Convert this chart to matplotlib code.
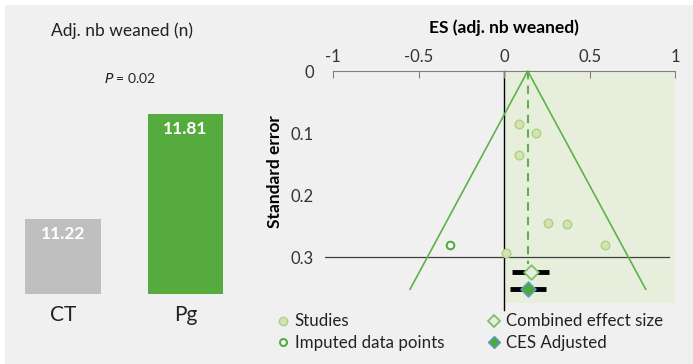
import matplotlib
matplotlib.use('Agg')
import matplotlib.pyplot as plt
from matplotlib.patches import Rectangle
from matplotlib.lines import Line2D

plt.rcParams['font.family'] = ['Lato', 'DejaVu Sans']

# left panel data
groups = ['CT', 'Pg']
weaned = [11.22, 11.81]
bar_colors = ['#bfbfbf', '#56ab3f']
base = 10.80

# funnel plot data (effect size, standard error)
study_es = [0.086, 0.185, 0.086, 0.254, 0.368, 0.589, 0.012]
study_se = [0.086, 0.100, 0.135, 0.245, 0.246, 0.280, 0.294]
imputed_es = [-0.317]
imputed_se = [0.280]
ces_es, ces_se, ces_lo, ces_hi = 0.154, 0.324, 0.047, 0.261
adj_es, adj_se, adj_lo, adj_hi = 0.137, 0.352, 0.033, 0.242
funnel_x = [-0.551, 0.137, 0.827]
funnel_se = [0.352, 0.0, 0.352]
x_ticks = [-1, -0.5, 0, 0.5, 1]
y_ticks = [0, 0.1, 0.2, 0.3]

W, H = 693, 364
fig = plt.figure(figsize=(W / 100, H / 100), dpi=100)
fig.patch.set_facecolor('white')
bg = '#f0f0f0'
fig.patches.append(Rectangle((5 / W, 0), 1, (H - 5) / H, transform=fig.transFigure,
                             facecolor=bg, edgecolor='none', zorder=-10))

def fx(px):
    return px / W

def fy(py):
    return 1 - py / H

# ---- left bar chart ----
axl = fig.add_axes([0, 0, 256 / W, 1])
axl.set_facecolor('none')
axl.bar(range(len(groups)), [v - base for v in weaned], bottom=base, width=0.617,
        color=bar_colors)
axl.set_xlim(-0.514, 1.577)
axl.set_ylim(base - 70 / 178, base - 70 / 178 + 364 / 178)
for i, v in enumerate(weaned):
    axl.text(i, v - 0.04, f'{v:.2f}', ha='center', va='top', color='white',
             fontsize=12.5, fontweight='bold')
    axl.text(i, base - 0.06, groups[i], ha='center', va='top', fontsize=15, color='#222222')
axl.axis('off')
fig.text(fx(122), fy(31), 'Adj. nb weaned (n)', ha='center', va='center', fontsize=12.5, color='#222222')
fig.text(fx(130), fy(78), '$P$ = 0.02', ha='center', va='center', fontsize=10, color='#222222')

# ---- right funnel plot ----
x0, x1 = 325, 690
y0, y1 = 60, 364
ax = fig.add_axes([fx(x0), fy(y1), (x1 - x0) / W, (y1 - y0) / H])
ax.set_facecolor('none')
ax.set_xlim((x0 - 504.3) / 171, (x1 - 504.3) / 171)
ax.set_ylim((y1 - 71) / 620, (y0 - 71) / 620)

ax.fill_betweenx([0, 0.374], 0, 1, color='#e8eedc', lw=0, zorder=0)
ax.plot([0, 0], [0, 0.385], color='black', lw=1, zorder=1)
ax.plot([ax.get_xlim()[0], 0.963], [0.3, 0.3], color='#404040', lw=0.9, zorder=1)
ax.plot(funnel_x, funnel_se, color='#5ab44a', lw=1.2, zorder=2)
ax.plot([adj_es, adj_es], [0, ces_se - 0.012], color='#5ab44a', lw=1.5, ls=(0, (4, 3)), zorder=2)

ax.scatter(study_es, study_se, s=38, facecolor='#d3e4b0', edgecolor='#b0d085', lw=1, zorder=3)
ax.scatter(imputed_es, imputed_se, s=30, facecolor='white', edgecolor='#4fae3f', lw=1.5, zorder=3)

ax.plot([ces_lo, ces_hi], [ces_se, ces_se], color='black', lw=3.5, zorder=3, solid_capstyle='butt')
ax.plot([adj_lo, adj_hi], [adj_se, adj_se], color='black', lw=3.5, zorder=3, solid_capstyle='butt')
ax.scatter([ces_es], [ces_se], marker='D', s=55, facecolor='#e6eedf', edgecolor='#7cc06a', lw=1.3, zorder=4)
ax.scatter([adj_es], [adj_se], marker='D', s=60, facecolor='#4ea83a', edgecolor='#5b9bd5', lw=1, zorder=4)

for s in ['left', 'right', 'bottom']:
    ax.spines[s].set_visible(False)
ax.spines['top'].set_position(('data', 0))
ax.spines['top'].set_bounds(-1, 1)
ax.spines['top'].set_color('#808080')
ax.xaxis.tick_top()
ax.set_xticks(x_ticks)
ax.set_xticklabels(['-1', '-0.5', '0', '0.5', '1'])
ax.tick_params(axis='x', direction='in', length=5, color='#808080', labelsize=12,
               labelcolor='#333333', pad=4)
ax.set_yticks(y_ticks)
ax.set_yticklabels(['0', '0.1', '0.2', '0.3'])
ax.tick_params(axis='y', length=0, labelsize=12, labelcolor='#333333', pad=8)
ax.xaxis.set_label_position('top')
ax.set_xlabel('ES (adj. nb weaned)', fontsize=12.5, fontweight='bold')
ax.xaxis.set_label_coords((504 - x0) / (x1 - x0), 1 - (33 - y0) / (y1 - y0))
ax.set_ylabel('Standard error', fontsize=12.5, fontweight='bold')
ax.yaxis.set_label_coords((283 - x0) / (x1 - x0), 1 - (172 - y0) / (y1 - y0))

handles = [
    Line2D([], [], ls='none', marker='o', ms=6, mfc='#d3e4b0', mec='#b0d085'),
    Line2D([], [], ls='none', marker='o', ms=5, mfc='white', mec='#4fae3f', mew=1.5),
    Line2D([], [], ls='none', marker='D', ms=6.5, mfc='#e6eedf', mec='#7cc06a', mew=1.3),
    Line2D([], [], ls='none', marker='D', ms=6.5, mfc='#4ea83a', mec='#5b9bd5'),
]
labels = ['Studies', 'Imputed data points', 'Combined effect size', 'CES Adjusted']
fig.legend(handles, labels, ncol=2, frameon=False, loc='upper left',
           bbox_to_anchor=(fx(266), fy(305)), fontsize=12.2, handletextpad=0.2,
           columnspacing=2.45, labelspacing=0.33, handlelength=1.0, borderpad=0,
           labelcolor='#222222')

fig.savefig('out.png', dpi=100, facecolor=fig.get_facecolor())
